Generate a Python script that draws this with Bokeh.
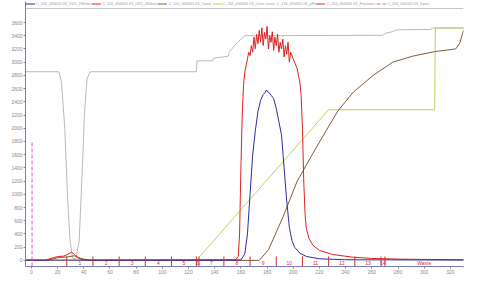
from bokeh.plotting import figure
from bokeh.models import Range1d, Legend, LegendItem, Label, FixedTicker, ColumnDataSource, Span
from bokeh.core.properties import value
from bokeh.embed import file_html
from bokeh.resources import INLINE

# ---------------- data ----------------
uv1_x = [-5, 150, 160, 163, 165, 167, 169, 171, 173, 175, 177, 178.5, 179.5, 180.5, 181.5, 183, 185, 187,
         189, 191, 193, 195, 197, 199, 201, 205, 210, 220, 240, 334]
uv1_y = [5, 5, 8, 100, 400, 1000, 1600, 1960, 2250, 2420, 2510, 2540, 2580, 2550, 2540, 2500, 2450, 2300,
         2100, 1900, 1400, 900, 500, 300, 200, 110, 60, 25, 10, 5]

uv2_x = [-5, 11, 14, 17, 21, 24.7, 27, 28.5, 30.7, 33, 36, 39.7, 45, 156, 158, 159, 160, 161, 162, 163,
         164, 165, 166, 167, 168, 169, 170, 171, 172, 173, 174, 175, 176, 177, 178, 179, 180, 181, 182,
         183, 184, 185, 186, 187, 188, 189, 190, 191, 192, 193, 194, 195, 196, 197, 198, 200, 203, 205,
         206, 207, 208, 209, 210, 212, 215, 220, 230, 245, 260, 280, 300, 334]
uv2_y = [5, 5, 25, 45, 60, 65, 85, 100, 125, 90, 30, 8, 5, 10, 60, 400, 1400, 2200, 2650, 2850,
         2950, 3050, 3150, 3100, 3250, 3150, 3380, 3200, 3420, 3280, 3480, 3300, 3520, 3250, 3450, 3350,
         3540, 3200, 3400, 3300, 3460, 3180, 3380, 3250, 3420, 3150, 3300, 3200, 3350, 3080, 3250, 3120,
         3300, 3000, 3150, 3050, 2900, 2700, 2500, 2000, 1200, 700, 480, 330, 230, 150, 90, 50, 30, 20,
         15, 10]

cond_x = [-5, 12, 20, 28, 33, 38, 45, 174, 181, 192, 203, 215, 225, 234, 246, 261, 276, 291, 308, 324,
          327, 330, 334]
cond_y = [0, 0, 40, 55, 70, 30, 0, 0, 160, 650, 1200, 1620, 1960, 2260, 2550, 2800, 3000, 3090, 3160,
          3200, 3280, 3480, 3520]

conc_x = [-5, 126, 227, 308, 308.5, 334]
conc_y = [0, 0, 2280, 2280, 3517, 3517]

ph_x = [-5, 21, 23, 25.5, 27.5, 29.5, 31.5, 34, 36.5, 38.5, 40.5, 42.5, 45, 126, 126.5, 138.5, 139,
        150.5, 151, 156, 163, 268, 271, 276, 279, 305, 306, 334]
ph_y = [2855, 2855, 2700, 2000, 1000, 300, 30, 20, 300, 1200, 2200, 2750, 2855, 2855, 3020, 3020, 3060,
        3090, 3150, 3270, 3400, 3407, 3440, 3462, 3490, 3495, 3517, 3517]

frac_edges = [27, 47, 67, 87, 107, 126, 128, 147, 167, 187, 207, 227, 247, 267, 270]
frac_names = ["1", "2", "3", "4", "5", "6", "7", "8", "9", "10", "11", "12", "13", "14", "Waste"]
inject_x = [0.5]
inject_top = [1800]

y_ticks = list(range(0, 3601, 200))
x_ticks = list(range(0, 321, 20))

FONT = "Liberation Sans"
X0, X1 = -4.5, 330
Y0, Y1 = -92, 3918

# ---------------- figure ----------------
p = figure(width=464, height=276, output_backend="svg", toolbar_location=None,
           x_range=Range1d(X0, X1), y_range=Range1d(Y0, Y1),
           min_border_left=25, min_border_right=1, min_border_top=1, min_border_bottom=10)
p.title.visible = False
p.background_fill_color = "white"
p.border_fill_color = "white"
p.outline_line_color = None
p.xgrid.visible = False
p.ygrid.visible = False

p.add_layout(Span(location=3812, dimension="width", line_color="#c4c4c4", line_width=1))

r_ph = p.line(ph_x, ph_y, line_color="#b9b9b9", line_width=1)
r_conc = p.line(conc_x, conc_y, line_color="#bcd45a", line_width=1)
r_cond = p.line(cond_x, cond_y, line_color="#7d5d3a", line_width=1)
r_uv2 = p.line(uv2_x, uv2_y, line_color="#dd2222", line_width=1)
r_uv1 = p.line(uv1_x, uv1_y, line_color="#2b2ba3", line_width=1)

frac_src = ColumnDataSource(dict(x=frac_edges, y0=[60] * len(frac_edges), y1=[Y0] * len(frac_edges)))
r_frac = p.segment(x0="x", y0="y0", x1="x", y1="y1", source=frac_src, line_color="#d03030", line_width=1)
centers = [(frac_edges[i] + frac_edges[i + 1]) / 2 for i in range(len(frac_edges) - 1)]
centers.append((frac_edges[-1] + X1) / 2)
lab_src = ColumnDataSource(dict(x=centers, y=[-45] * len(centers), t=frac_names))
p.text(x="x", y="y", text="t", source=lab_src, text_color="#d03030", text_font_size="5px",
       text_align="center", text_baseline="middle", text_font=value(FONT))

inj_src = ColumnDataSource(dict(x=inject_x, y0=[Y0], y1=inject_top))
r_inj = p.segment(x0="x", y0="y0", x1="x", y1="y1", source=inj_src, line_color="#d060d0",
                  line_width=1, line_dash="4 2")

# axes
for ax in (p.xaxis[0], p.yaxis[0]):
    ax.axis_line_color = "#7a7ab8"
    ax.major_tick_line_color = "#888888"
    ax.minor_tick_line_color = "#aaaaaa"
    ax.major_label_text_color = "#8a8a8a"
    ax.major_label_text_font_size = "5px"
    ax.major_label_text_font = FONT
    ax.major_tick_in = 0
    ax.major_tick_out = 2
    ax.minor_tick_in = 0
    ax.minor_tick_out = 1
    ax.major_label_standoff = 1
p.yaxis.ticker = FixedTicker(ticks=y_ticks)
p.yaxis[0].minor_tick_line_color = None
p.xaxis.ticker = FixedTicker(ticks=x_ticks, minor_ticks=list(range(10, 331, 20)))

p.add_layout(Label(x=-23, y=3736, x_units="screen", y_units="data", text="mAU",
                   text_font_size="5px", text_color="#888888", text_font=FONT,
                   text_baseline="middle"))

legend = Legend(items=[
    LegendItem(label="C_116_000001.03_UV1_280nm", renderers=[r_uv1]),
    LegendItem(label="C_116_000001.03_UV2_260nm", renderers=[r_uv2]),
    LegendItem(label="C_116_000001.03_Cond", renderers=[r_cond]),
    LegendItem(label="C_116_000001.03_Conc", renderers=[r_conc]),
    LegendItem(label="C_116_000001.03_pH", renderers=[r_ph]),
    LegendItem(label="C_116_000001.03_Fractions", renderers=[r_frac]),
    LegendItem(label="C_116_000001.03_Inject", renderers=[r_inj]),
], orientation="horizontal", location=(0, 260))
legend.label_text_font_size = "3.8px"
legend.label_text_font = FONT
legend.label_text_color = "#9a9aa8"
legend.glyph_height = 5
legend.glyph_width = 10
legend.label_height = 5
legend.label_standoff = 1
legend.spacing = 1
legend.padding = 0
legend.margin = 0
legend.border_line_color = None
legend.background_fill_alpha = 0
p.add_layout(legend)

open("out.html", "w").write(file_html(p, INLINE))
